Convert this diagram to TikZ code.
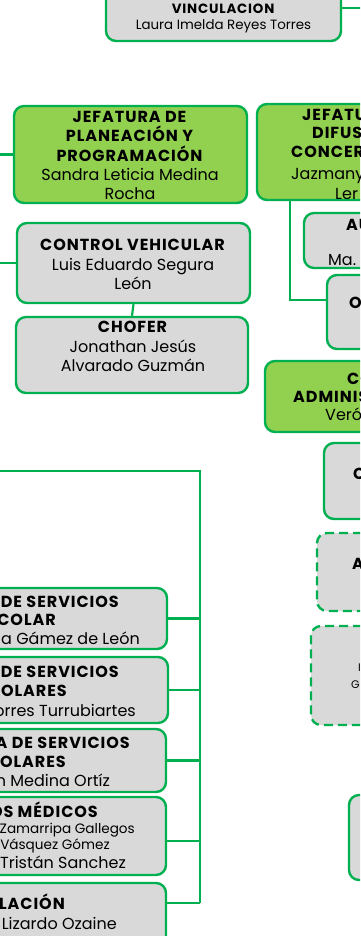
\documentclass[tikz,border=0pt]{standalone}
\usepackage{fontspec}
\setmainfont{Poppins}[BoldFont={Poppins Bold},BoldFeatures={LetterSpace=6}]
\usetikzlibrary{fit}
\definecolor{bd}{HTML}{00B050}
\definecolor{gf}{HTML}{92D050}
\definecolor{gy}{HTML}{D9D9D9}
\tikzset{
  box/.style={draw=bd, line width=2.4pt, rounded corners=10pt, fill=gy, inner sep=0pt},
  gbox/.style={box, fill=gf},
  dbox/.style={box, dash pattern=on 9pt off 5pt},
  conn/.style={draw=bd, line width=2.2pt},
  txt/.style={inner sep=0pt, align=center, font=\fontsize{16}{19.3}\selectfont},
  stxt/.style={inner sep=0pt, align=center, font=\fontsize{13.4}{16}\selectfont},
  hd/.style={inner sep=0pt, font=\bfseries\fontsize{16}{19.3}\selectfont},
  nm/.style={inner sep=0pt, font=\fontsize{16}{19.3}\selectfont},
  sm/.style={inner sep=0pt, font=\fontsize{13.6}{14}\selectfont},
  xs/.style={inner sep=0pt, font=\fontsize{11}{14}\selectfont},
}
\begin{document}
\begin{tikzpicture}[x=1pt,y=-1pt]
\useasboundingbox (0,0) rectangle (360,936);
\clip (0,0) rectangle (360,936);
\fill[white] (0,0) rectangle (360,936);

% coordinates
\coordinate (vr) at (362,8);
\coordinate (lp) at (-2,154.5);
\coordinate (lc) at (-2,263);
\coordinate (brl) at (-2,471);
\coordinate (brtop) at (200,471);
\coordinate (brbot) at (200,903);
\coordinate (j4) at (200,841);
\coordinate (dj) at (290,300);

% connectors (behind boxes)
\draw[conn] (brl) -- (brtop) -- (brbot);

% boxes
\node[box, fit={(106,-25)(341,41)}] (vinc) {};
\node[gbox, fit={(14,106)(247,203)}] (plan) {};
\node[box, fit={(17,223)(250,303)}] (cv) {};
\node[box, fit={(16,317)(248,393)}] (chof) {};
\node[gbox, fit={(257,104)(470,200)}] (dif) {};
\node[box, fit={(304,213)(470,268)}] (au) {};
\node[box, fit={(327,275)(470,349)}] (ob) {};
\node[gbox, fit={(265,361)(470,432)}] (coord) {};
\node[box, fit={(324,443)(470,519)}] (cb) {};
\node[dbox, fit={(317,533)(470,611)}] (da) {};
\node[dbox, fit={(311,626)(470,725)}] (db) {};
\node[box, fit={(349,795)(470,880)}] (br) {};
\node[box, fit={(-70,588)(167,649)}] (b1) {};
\node[box, fit={(-70,657)(168,723)}] (b2) {};
\node[box, fit={(-70,729)(166,792)}] (b3) {};
\node[box, fit={(-70,797)(166,875)}] (b4) {};
\node[box, fit={(-70,883)(166,970)}] (b5) {};

% connectors
\draw[conn] (vinc.east) -- (vr);
\draw[conn] (plan.west) -- (lp);
\draw[conn] (cv.west) -- (lc);
\draw[conn] (cv.south) -- (chof.north);
\draw[conn] (dif.south -| dj) -- (dj) -- (ob.west |- dj);
\draw[conn] (b1.east) -- (b1.east -| brtop);
\draw[conn] (b2.east) -- (b2.east -| brtop);
\draw[conn] (b3.east) -- (b3.east -| brtop);
\draw[conn] (b4.east |- j4) -- (j4);
\draw[conn] (b5.east |- brbot) -- (brbot);

% texts
\node[stxt] (tvinc) at (223.5,18) {\textbf{VINCULACION}\\Laura Imelda Reyes Torres};
\node[txt] (tplan) at (130,155.5) {\textbf{JEFATURA DE}\\\textbf{PLANEACIÓN Y}\\\textbf{PROGRAMACIÓN}\\Sandra Leticia Medina\\Rocha};
\node[txt] (tcv) at (133,264.5) {\textbf{CONTROL VEHICULAR}\\Luis Eduardo Segura\\León};
\node[txt] (tchof) at (133,346.5) {\textbf{CHOFER}\\Jonathan Jesús\\Alvarado Guzmán};

\node[hd, anchor=base west] (d1) at (302,121) {JEFATU};
\node[hd, anchor=base west] (d2) at (312,139) {DIFUS};
\node[hd, anchor=base west] (d3) at (291,158) {CONCER};
\node[nm, anchor=base west] (d4) at (291,179) {Jazmany};
\node[nm, anchor=base west] (d5) at (335,199) {Ler};
\node[hd, anchor=base west] (a1) at (346,230) {AU};
\node[nm, anchor=base west] (a2) at (328,265) {Ma.};
\node[hd, anchor=base west] (o1) at (349,308) {O};
\node[hd, anchor=base west] (c1) at (347,384) {CO};
\node[hd, anchor=base west] (c2) at (293,402) {ADMINIS};
\node[nm, anchor=base west] (c3) at (325,420) {Veró};
\node[hd, anchor=base west] (cc1) at (353,479) {C};
\node[hd, anchor=base west] (da1) at (352,569) {A};
\node[xs, anchor=base west] (db1) at (358,671) {I};
\node[xs, anchor=base west] (db2) at (351,688) {G};

\node[hd, anchor=base east] (l11) at (119,607) {DE SERVICIOS};
\node[hd, anchor=base east] (l12) at (56,625) {COLAR};
\node[nm, anchor=base east] (l13) at (140,644) {ia Gámez de León};
\node[hd, anchor=base east] (l21) at (119,677) {DE SERVICIOS};
\node[hd, anchor=base east] (l22) at (67,696) {OLARES};
\node[nm, anchor=base east] (l23) at (136,716) {orres Turrubiartes};
\node[hd, anchor=base east] (l31) at (130,748) {A DE SERVICIOS};
\node[hd, anchor=base east] (l32) at (66,767) {OLARES};
\node[nm, anchor=base east] (l33) at (110,786) {n Medina Ortíz};
\node[hd, anchor=base east] (l41) at (98,817) {OS MÉDICOS};
\node[sm, anchor=base east] (l42) at (135,833) {s Zamarripa Gallegos};
\node[sm, anchor=base east] (l43) at (110,849) {Vásquez Gómez};
\node[nm, anchor=base east] (l44) at (126,868) {Tristán Sanchez};
\node[hd, anchor=base east] (l51) at (65,909) {LACIÓN};
\node[nm, anchor=base east] (l52) at (117,929) {Lizardo Ozaine};
\end{tikzpicture}
\end{document}
